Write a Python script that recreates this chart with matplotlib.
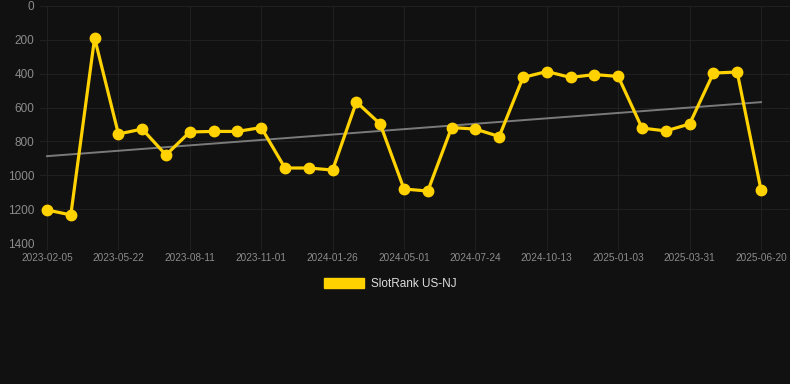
import matplotlib.pyplot as plt
from matplotlib.patches import Patch
import numpy as np

plt.rcParams["font.family"] = ["Liberation Sans", "DejaVu Sans"]

# tick labels shown on every third point
tick_labels = ["2023-02-05", "2023-05-22", "2023-08-11", "2023-11-01", "2024-01-26",
               "2024-05-01", "2024-07-24", "2024-10-13", "2025-01-03", "2025-03-31",
               "2025-06-20"]

# SlotRank US-NJ rank values
rank = [1205, 1234, 189, 756, 727, 880, 744, 741, 741, 718,
        957, 957, 969, 567, 697, 1081, 1093, 718, 727, 771,
        422, 387, 422, 405, 416, 721, 738, 697, 396, 390,
        1087]

bg = "#111111"
gold = "#FFD200"

fig = plt.figure(figsize=(7.9, 3.84), dpi=100, facecolor=bg)
W, H = 790, 384
ax = fig.add_axes([40 / W, 1 - 243 / H, (790 - 40) / W, (243 - 6) / H])
ax.set_facecolor(bg)

x = np.arange(len(rank))
ax.plot(x, rank, color=gold, lw=2.3, marker="o", ms=7.5, zorder=3)

# linear trend
k, b = np.polyfit(x, rank, 1)
ax.plot(x, k * x + b, color="#7a7a7a", lw=1.4, zorder=2)

step = (761 - 47) / 30
ax.set_xlim(-(47 - 40) / step, 30 + (790 - 761) / step)
ax.set_ylim(1400, 0)
ax.set_yticks(range(0, 1401, 200))
ax.set_xticks(x[::3])
ax.set_xticklabels(tick_labels)

ax.grid(True, color="#202020", lw=0.8)
for s in ax.spines.values():
    s.set_visible(False)
ax.tick_params(axis="y", colors="#202020", labelcolor="#8c8c8c", labelsize=8.5,
               length=0, pad=4)
ax.tick_params(axis="x", colors="#202020", labelcolor="#8c8c8c", labelsize=7.2,
               length=5, pad=2)

fig.legend(handles=[Patch(color=gold, label="SlotRank US-NJ")], loc="center",
           bbox_to_anchor=(390 / W, 1 - 284 / H), frameon=False, fontsize=8.5,
           labelcolor="#dddddd", handlelength=3.4, handleheight=1.0,
           handletextpad=0.6)

fig.savefig("out.png", dpi=100, facecolor=bg)
